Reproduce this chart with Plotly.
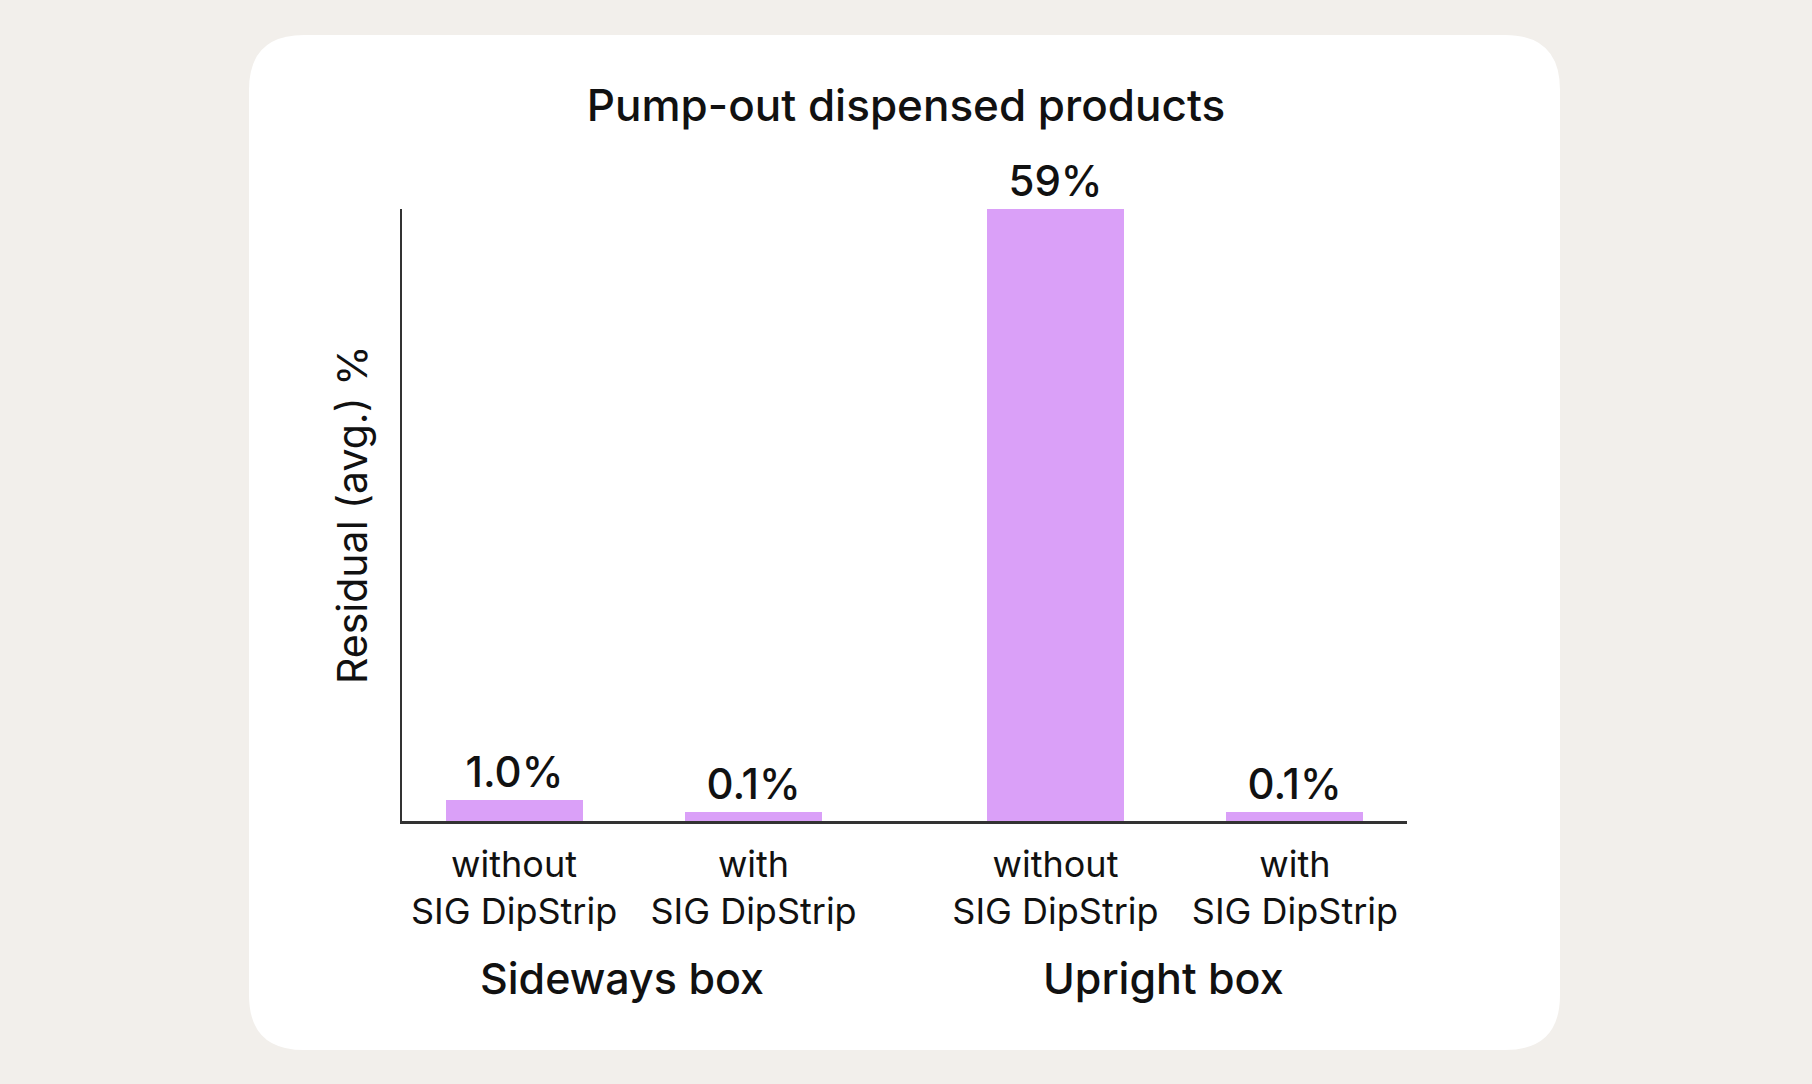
import plotly.graph_objects as go

# === Dados === #
grupos = ["Sideways box", "Upright box"]
categorias = ["without<br>SIG DipStrip", "with<br>SIG DipStrip",
              "without<br>SIG DipStrip", "with<br>SIG DipStrip"]
grupo_idx = [0, 0, 1, 1]
rotulos = ["1.0%", "0.1%", "59%", "0.1%"]
# alturas das barras como desenhadas no gráfico original
alturas = [2.0, 0.9, 59.0, 0.9]

# === Layout (px) === #
W, H = 1812, 1084
x0_px, x1_px = 402, 1407   # área do gráfico
y0_px, y1_px = 209, 821
gap = 0.261                # espaço extra entre grupos

fonte = "Inter"
cor_fundo = "#F2EFEB"
cor_barra = "#DAA0F8"
cor_texto = "#111111"
cor_eixo = "#333333"

xs = [i + g * gap for i, g in enumerate(grupo_idx)]


def px2paper(px, py):
    return (px - x0_px) / (x1_px - x0_px), (y1_px - py) / (y1_px - y0_px)


def card_path(l, t, r, b, rad):
    # retângulo arredondado em coordenadas de papel
    ax, ay = px2paper(l, t)
    bx, by = px2paper(r, b)
    rx = rad / (x1_px - x0_px)
    ry = rad / (y1_px - y0_px)
    return (
        f"M {ax + rx},{ay} L {bx - rx},{ay} Q {bx},{ay} {bx},{ay - ry} "
        f"L {bx},{by + ry} Q {bx},{by} {bx - rx},{by} "
        f"L {ax + rx},{by} Q {ax},{by} {ax},{by + ry} "
        f"L {ax},{ay - ry} Q {ax},{ay} {ax + rx},{ay} Z"
    )


fig = go.Figure()
fig.add_trace(
    go.Bar(
        x=xs,
        y=alturas,
        width=0.572,
        marker=dict(color=cor_barra, line=dict(width=0)),
        text=rotulos,
        textposition="outside",
        textfont=dict(family=fonte, size=42, color=cor_texto, weight=500),
        cliponaxis=False,
        hoverinfo="skip",
    )
)

# rótulos dos grupos
anots = []
for g, nome in enumerate(grupos):
    xm = sum(x for x, gi in zip(xs, grupo_idx) if gi == g) / grupo_idx.count(g)
    anots.append(
        dict(
            x=xm - 0.05, xref="x",
            y=px2paper(0, 978)[1], yref="paper",
            text=nome, showarrow=False,
            xanchor="center", yanchor="middle",
            font=dict(family=fonte, size=43, color=cor_texto, weight=500),
        )
    )
# título do eixo y
anots.append(
    dict(
        x=px2paper(352, 0)[0], xref="paper",
        y=0.5, yref="paper",
        text="Residual (avg.) %", showarrow=False, textangle=-90,
        xanchor="center", yanchor="middle",
        font=dict(family=fonte, size=41, color=cor_texto),
    )
)

fig.update_layout(
    width=W,
    height=H,
    margin=dict(l=x0_px, r=W - x1_px, t=y0_px, b=H - y1_px, pad=0),
    paper_bgcolor=cor_fundo,
    plot_bgcolor="rgba(0,0,0,0)",
    showlegend=False,
    title=dict(
        text="Pump-out dispensed products",
        x=0.5, xanchor="center",
        y=1 - 106 / H, yanchor="middle",
        font=dict(family=fonte, size=44, color=cor_texto, weight=500),
    ),
    xaxis=dict(
        range=[-0.468, xs[-1] + 0.468],
        tickvals=xs,
        ticktext=categorias,
        tickfont=dict(family=fonte, size=36, color=cor_texto),
        showline=True, linecolor=cor_eixo, linewidth=3,
        showgrid=False, zeroline=False,
        ticks="outside", ticklen=10, tickcolor="rgba(0,0,0,0)",
        fixedrange=True,
    ),
    yaxis=dict(
        range=[0, 59],
        showticklabels=False,
        showline=True, linecolor=cor_eixo, linewidth=2,
        showgrid=False, zeroline=False,
        ticks="",
        fixedrange=True,
    ),
    annotations=anots,
    shapes=[
        dict(
            type="path", xref="paper", yref="paper",
            path=card_path(249, 35, 1560, 1050, 55),
            fillcolor="#FFFFFF", line=dict(width=0), layer="below",
        )
    ],
    bargap=0,
)

fig.write_html(
    "out.html",
    config={"displayModeBar": False},
    post_script=(
        "document.body.style.margin='0';"
        f"document.body.style.background='{cor_fundo}';"
    ),
)
